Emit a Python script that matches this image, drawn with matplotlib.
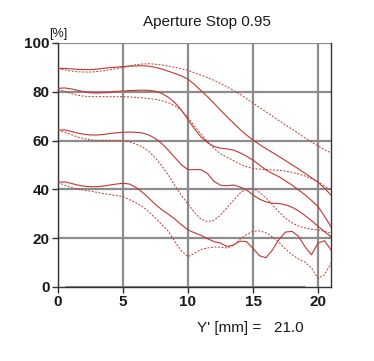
import matplotlib
matplotlib.use("Agg")
import matplotlib.pyplot as plt
import numpy as np

# Image height Y' [mm], sampled every 0.5 mm
x_mm = [i * 0.5 for i in range(43)]

solid_a = [89.6, 89.6, 89.4, 89.2, 89.1, 89.1, 89.3, 89.6, 89.9, 90.1, 90.3, 90.5, 90.6, 90.7,
           90.5, 90.0, 89.3, 88.4, 87.5, 86.5, 85.2, 83.0, 80.5, 78.0, 75.3, 72.5, 69.8, 67.2,
           64.6, 62.3, 60.2, 58.4, 56.7, 55.1, 53.5, 51.8, 50.1, 48.4, 46.6, 44.8, 42.9, 40.5, 37.7]
dashed_a = [89.5, 89.0, 88.5, 88.2, 88.1, 88.1, 88.3, 88.6, 89.0, 89.5, 90.0, 90.6, 91.1, 91.4,
            91.5, 91.3, 91.0, 90.5, 90.0, 89.5, 88.8, 87.8, 86.8, 85.8, 84.7, 83.4, 82.0, 80.6,
            79.0, 77.2, 75.4, 73.6, 71.8, 70.0, 68.2, 66.4, 64.7, 62.9, 61.1, 59.4, 57.8, 56.3, 55.0]
solid_b = [81.4, 81.6, 81.2, 80.6, 80.0, 79.6, 79.5, 79.6, 79.8, 80.1, 80.3, 80.5, 80.6, 80.7,
           80.6, 80.2, 79.3, 77.7, 75.5, 72.5, 68.6, 64.8, 61.5, 59.2, 57.6, 56.9, 56.6, 56.1,
           55.0, 53.6, 52.0, 50.0, 48.0, 46.5, 45.2, 43.5, 41.8, 39.8, 37.8, 35.5, 33.0, 29.0, 24.7]
dashed_b = [81.0, 80.2, 79.3, 78.6, 78.2, 78.0, 78.0, 78.0, 78.0, 78.0, 78.0, 77.9, 77.7, 77.5,
            77.2, 76.9, 76.3, 75.5, 74.3, 72.3, 69.5, 66.0, 62.7, 59.6, 56.8, 54.6, 53.2, 51.8,
            50.4, 49.3, 48.6, 48.3, 48.1, 48.0, 47.8, 47.5, 47.0, 46.3, 45.5, 44.4, 43.1, 41.4, 39.6]
solid_c = [64.3, 64.4, 63.8, 63.1, 62.6, 62.3, 62.3, 62.5, 62.9, 63.2, 63.4, 63.5, 63.4, 63.1,
           62.3, 60.8, 58.7, 56.0, 53.0, 50.0, 48.1, 48.1, 48.1, 46.5, 43.3, 41.7, 41.5, 41.8,
           41.0, 39.8, 37.7, 36.0, 34.9, 34.3, 34.2, 33.7, 32.7, 31.2, 29.3, 27.2, 24.9, 22.7, 20.6]
dashed_c = [64.3, 63.5, 62.5, 61.5, 60.8, 60.3, 60.1, 60.1, 60.1, 60.1, 60.0, 59.5, 58.6, 57.4,
            55.5, 52.8, 49.5, 45.8, 41.5, 37.5, 34.0, 30.5, 27.8, 26.8, 27.3, 29.5, 32.5, 35.5,
            38.5, 40.2, 40.3, 38.8, 36.5, 33.7, 30.8, 28.2, 26.3, 25.0, 24.2, 23.7, 23.4, 22.8, 22.0]
solid_d = [42.9, 43.1, 42.5, 41.8, 41.3, 41.1, 41.1, 41.4, 41.8, 42.2, 42.5, 42.2, 40.8, 38.8,
           36.4, 33.8, 31.6, 29.8, 27.8, 25.5, 23.4, 22.2, 21.2, 19.8, 18.6, 18.0, 16.6, 17.2,
           18.8, 18.6, 15.8, 12.8, 12.0, 15.2, 19.5, 22.5, 22.8, 20.8, 16.5, 13.2, 18.0, 19.0, 15.2]
dashed_d = [42.9, 41.8, 40.8, 40.2, 39.7, 39.3, 38.8, 38.3, 37.9, 37.5, 37.0, 35.8, 34.5, 33.0,
            30.8, 28.2, 25.5, 22.8, 18.5, 14.8, 12.4, 13.8, 15.4, 16.0, 16.4, 16.3, 16.0, 17.0,
            19.6, 21.5, 22.8, 23.0, 22.2, 20.5, 18.3, 15.5, 13.3, 11.5, 10.2, 7.8, 3.5, 5.0, 9.7]

x_ticks = [0, 5, 10, 15, 20]
y_ticks = [0, 20, 40, 60, 80, 100]

RED = "#c23630"
GRID = "#8c8c8c"
DARK = "#333333"

fig = plt.figure(figsize=(3.74, 3.61), dpi=100)
ax = fig.add_axes([58 / 374, 1 - 287 / 361, (331 - 58) / 374, (287 - 43) / 361])

for x in x_ticks:
    ax.axvline(x, color=GRID, lw=1.6, zorder=1)
for y in y_ticks[1:]:
    ax.axhline(y, color=GRID, lw=1.6, zorder=1)
ax.hlines(0, 0.5, 19.0, color=GRID, lw=2.2, zorder=2)

for s in [solid_a, solid_b, solid_c, solid_d]:
    ax.plot(x_mm, s, color=RED, lw=0.8, zorder=3)
for d in [dashed_a, dashed_b, dashed_c, dashed_d]:
    ax.plot(x_mm, d, color=RED, lw=0.7, ls=(0, (2.0, 1.6)), zorder=3)

ax.set_xlim(0, 21)
ax.set_ylim(0, 100)
ax.set_xticks(x_ticks)
ax.set_yticks(y_ticks)
ax.tick_params(direction="out", length=4, width=1, color=DARK, pad=2)
for lab in ax.get_xticklabels() + ax.get_yticklabels():
    lab.set_fontfamily("Liberation Sans")
    lab.set_fontweight("bold")
    lab.set_fontsize(11)
    lab.set_color("#1a1a1a")

for side in ["left", "bottom", "right"]:
    ax.spines[side].set_color(DARK)
    ax.spines[side].set_linewidth(1.0)
ax.spines["top"].set_visible(False)

fig.text(207 / 374, 1 - 22 / 361, "Aperture Stop 0.95", ha="center", va="center",
         fontsize=11, family="Liberation Sans", color="#1a1a1a")
fig.text(49 / 374, 1 - 34 / 361, "[%]", ha="left", va="center",
         fontsize=9, family="Liberation Sans", color="#1a1a1a")
fig.text(197 / 374, 1 - 328 / 361, "Y' [mm] =   21.0", ha="left", va="center",
         fontsize=11, family="Liberation Sans", color="#1a1a1a")

fig.savefig("out.png", dpi=100, facecolor="white")
